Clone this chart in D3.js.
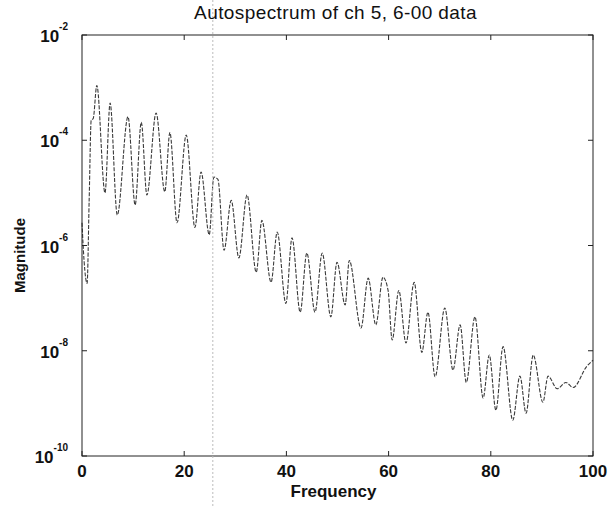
<!DOCTYPE html>
<html>
<head>
<meta charset="utf-8">
<script src="https://cdn.jsdelivr.net/npm/d3@7"></script>
<style>
  body { margin: 0; background: #fff; }
  text { font-family: "Liberation Sans", Arial, sans-serif; fill: #111; }
</style>
</head>
<body>
<svg id="chart" width="608" height="506"></svg>
<script>
// frequency (Hz) at each peak / trough
const freq = [0, 0.4, 1.0, 1.4, 1.8, 2.2, 2.9, 4.5, 5.5, 6.9, 9.0, 10.4, 11.6, 12.7, 14.5, 16.2,
  17.2, 18.6, 20.4, 22.1, 23.3, 24.9, 25.8, 26.6, 27.8, 29.2, 30.7, 32.3, 34.1, 35.2, 37.0,
  38.2, 39.9, 41.1, 42.7, 44.0, 45.6, 47.0, 48.7, 49.9, 51.5, 52.3, 54.6, 56.0, 57.5, 58.9,
  59.9, 60.7, 62.0, 63.4, 65.0, 66.5, 67.7, 69.1, 71.0, 72.6, 74.0, 75.2, 76.9, 78.5, 79.7,
  81.0, 82.4, 84.3, 85.7, 86.9, 88.3, 90.2, 91.2, 93.0, 94.7, 96.1, 98.8, 100];

const magnitude = [2.7e-6, 5.2e-7, 1.9e-7, 7.2e-6, 2.4e-4, 2.6e-4, 1.1e-3, 1.0e-5, 5.1e-4, 3.8e-6,
  2.8e-4, 5.9e-6, 2.2e-4, 9.1e-6, 3.3e-4, 1.05e-5, 1.4e-4, 2.7e-6, 1.26e-4, 2.2e-6, 2.5e-5,
  1.6e-6, 2.0e-5, 1.8e-5, 8.1e-7, 7.2e-6, 5.8e-7, 9.1e-6, 3.1e-7, 3.0e-6, 2.0e-7, 1.8e-6,
  7.9e-8, 1.4e-6, 5.4e-8, 7.2e-7, 5.4e-8, 7.2e-7, 4.4e-8, 4.8e-7, 7.4e-8, 5.2e-7, 2.7e-8,
  2.4e-7, 3.1e-8, 2.5e-7, 1.4e-7, 1.6e-8, 1.4e-7, 1.4e-8, 2.0e-7, 9.3e-9, 5.4e-8, 3.2e-9,
  6.5e-8, 4.3e-9, 3.1e-8, 2.5e-9, 4.4e-8, 1.26e-9, 8.3e-9, 7.4e-10, 1.2e-8, 4.8e-10, 3.3e-9,
  6.5e-10, 8.3e-9, 1.05e-9, 3.3e-9, 1.9e-9, 2.5e-9, 2.0e-9, 5.1e-9, 6.6e-9];

const xTicks = [0, 20, 40, 60, 80, 100];
const yTickExp = [-2, -4, -6, -8, -10];
const markerFreq = 25.6; // faint vertical dotted line

const width = 608, height = 506;
const margin = { top: 35, right: 15, bottom: 50, left: 82 };

const svg = d3.select("#chart");
const g = svg.append("g").attr("transform", `translate(${margin.left},${margin.top})`);
const w = width - margin.left - margin.right;
const h = height - margin.top - margin.bottom;

const x = d3.scaleLinear().domain([0, 100]).range([0, w]);
const y = d3.scaleLog().domain([1e-10, 1e-2]).range([h, 0]);

const data = freq.map((f, i) => ({ f: f, m: magnitude[i] }));

// faint dotted vertical line crossing the whole page
svg.append("line")
  .attr("x1", margin.left + x(markerFreq)).attr("x2", margin.left + x(markerFreq))
  .attr("y1", 0).attr("y2", height)
  .attr("stroke", "#bbb").attr("stroke-width", 1)
  .attr("stroke-dasharray", "2,2");

// spectrum line
const line = d3.line()
  .x(d => x(d.f))
  .y(d => y(d.m))
  .curve(d3.curveMonotoneX);

g.append("path")
  .datum(data)
  .attr("fill", "none")
  .attr("stroke", "#3a3a3a")
  .attr("stroke-width", 1.1)
  .attr("stroke-dasharray", "4,1.5")
  .attr("d", line);

// box
g.append("rect")
  .attr("width", w).attr("height", h)
  .attr("fill", "none").attr("stroke", "#222").attr("stroke-width", 1);

// ticks inside on all sides
const tl = 5;
g.selectAll(".xt-b").data(xTicks).join("line")
  .attr("x1", d => x(d)).attr("x2", d => x(d))
  .attr("y1", h).attr("y2", h - tl).attr("stroke", "#222");
g.selectAll(".xt-t").data(xTicks).join("line")
  .attr("x1", d => x(d)).attr("x2", d => x(d))
  .attr("y1", 0).attr("y2", tl).attr("stroke", "#222");
g.selectAll(".yt-l").data(yTickExp).join("line")
  .attr("x1", 0).attr("x2", tl)
  .attr("y1", d => y(Math.pow(10, d))).attr("y2", d => y(Math.pow(10, d))).attr("stroke", "#222");
g.selectAll(".yt-r").data(yTickExp).join("line")
  .attr("x1", w).attr("x2", w - tl)
  .attr("y1", d => y(Math.pow(10, d))).attr("y2", d => y(Math.pow(10, d))).attr("stroke", "#222");

// x tick labels
g.selectAll(".xl").data(xTicks).join("text")
  .attr("x", d => x(d)).attr("y", h + 21)
  .attr("text-anchor", "middle")
  .style("font-size", "17px").style("font-weight", "bold")
  .text(d => d);

// y tick labels 10^n
const yl = g.selectAll(".yl").data(yTickExp).join("text")
  .attr("x", -14).attr("y", d => y(Math.pow(10, d)) + 7)
  .attr("text-anchor", "end")
  .style("font-size", "17px").style("font-weight", "bold");
yl.append("tspan").text("10");
yl.append("tspan").attr("dy", -12).style("font-size", "10px").text(d => d);

// titles
svg.append("text")
  .attr("x", margin.left + w / 2 - 2).attr("y", 19)
  .attr("text-anchor", "middle")
  .style("font-size", "19px").style("letter-spacing", "0.4px")
  .text("Autospectrum of ch 5, 6-00 data");

svg.append("text")
  .attr("x", margin.left + w / 2 - 4).attr("y", 497)
  .attr("text-anchor", "middle")
  .style("font-size", "17px").style("font-weight", "bold")
  .text("Frequency");

svg.append("text")
  .attr("transform", `translate(25,${margin.top + h / 2 + 10}) rotate(-90)`)
  .attr("text-anchor", "middle")
  .style("font-size", "15px").style("font-weight", "bold")
  .text("Magnitude");
</script>
</body>
</html>
